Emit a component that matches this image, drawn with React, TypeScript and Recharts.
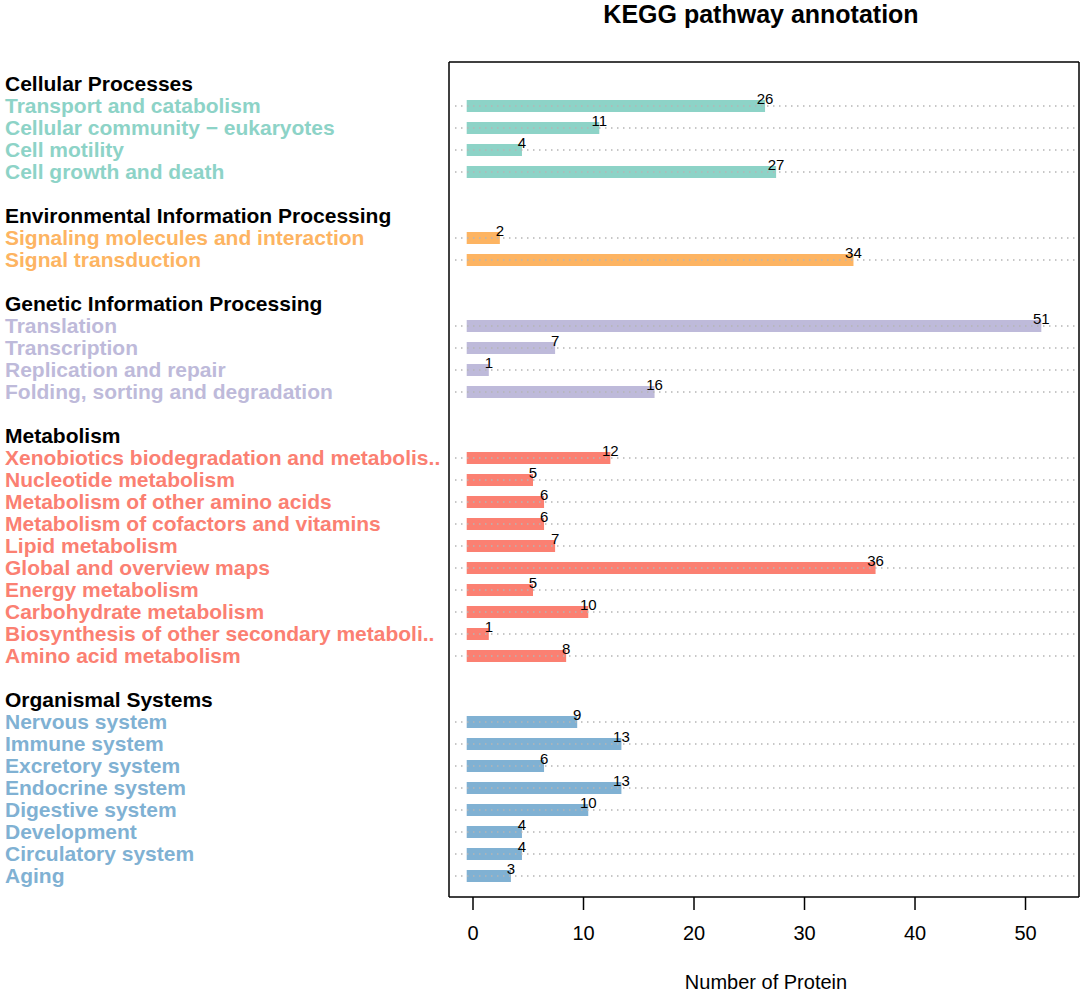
import React from "react";
import { BarChart, Bar, XAxis, YAxis, Cell, LabelList, ReferenceLine } from "recharts";

const FONT = '"Liberation Sans", Arial, Helvetica, sans-serif';

const groupTitles = [
  "Cellular Processes",
  "Environmental Information Processing",
  "Genetic Information Processing",
  "Metabolism",
  "Organismal Systems",
];
const groupColors = ["#8dd3c7", "#fdb462", "#bebada", "#fb8072", "#80b1d3"];

const cellularLabels = [
  "Transport and catabolism",
  "Cellular community \u2212 eukaryotes",
  "Cell motility",
  "Cell growth and death",
];
const cellularValues = [26, 11, 4, 27];

const environmentalLabels = ["Signaling molecules and interaction", "Signal transduction"];
const environmentalValues = [2, 34];

const geneticLabels = [
  "Translation",
  "Transcription",
  "Replication and repair",
  "Folding, sorting and degradation",
];
const geneticValues = [51, 7, 1, 16];

const metabolismLabels = [
  "Xenobiotics biodegradation and metabolis..",
  "Nucleotide metabolism",
  "Metabolism of other amino acids",
  "Metabolism of cofactors and vitamins",
  "Lipid metabolism",
  "Global and overview maps",
  "Energy metabolism",
  "Carbohydrate metabolism",
  "Biosynthesis of other secondary metaboli..",
  "Amino acid metabolism",
];
const metabolismValues = [12, 5, 6, 6, 7, 36, 5, 10, 1, 8];

const organismalLabels = [
  "Nervous system",
  "Immune system",
  "Excretory system",
  "Endocrine system",
  "Digestive system",
  "Development",
  "Circulatory system",
  "Aging",
];
const organismalValues = [9, 13, 6, 13, 10, 4, 4, 3];

const xTicks = [0, 10, 20, 30, 40, 50];

const groupLabels = [cellularLabels, environmentalLabels, geneticLabels, metabolismLabels, organismalLabels];
const groupValues = [cellularValues, environmentalValues, geneticValues, metabolismValues, organismalValues];

type Row = { key: string; label: string; kind: "header" | "item" | "blank"; value?: number; color?: string };

const rows: Row[] = [];
groupTitles.forEach((t, gi) => {
  if (gi > 0) rows.push({ key: `blank${gi}`, label: "", kind: "blank" });
  rows.push({ key: `head${gi}`, label: t, kind: "header" });
  groupLabels[gi].forEach((l, j) =>
    rows.push({ key: `g${gi}_${j}`, label: l, kind: "item", value: groupValues[gi][j], color: groupColors[gi] })
  );
});
const rowByKey: Record<string, Row> = Object.fromEntries(rows.map((r) => [r.key, r]));

const BAR_START = -0.57;
const BAR_EXTRA = 0.43;
const barRange = (d: Row) => (d.kind === "item" && d.value != null ? [BAR_START, d.value + BAR_EXTRA] : null);

const YTick = (props: any) => {
  const { y, payload } = props;
  const r = rowByKey[payload?.value];
  if (!r || !r.label) return <g />;
  return (
    <text
      x={5}
      y={y}
      dy="0.35em"
      textAnchor="start"
      fontFamily={FONT}
      fontSize={21}
      fontWeight="bold"
      fill={r.kind === "header" ? "#000000" : r.color}
    >
      {r.label}
    </text>
  );
};

const ValueLabel = (props: any) => {
  const { x, y, width, value } = props;
  if (value == null || x == null) return null;
  return (
    <text x={Number(x) + Number(width)} y={Number(y) + 4} textAnchor="middle" fontFamily={FONT} fontSize={15} fill="#000">
      {value}
    </text>
  );
};

const XTitle = (props: any) => {
  const vb = props.viewBox || {};
  return (
    <text x={vb.x + vb.width / 2 + 2} y={vb.y + 92} textAnchor="middle" fontFamily={FONT} fontSize={20} fill="#000">
      Number of Protein
    </text>
  );
};

const MainTitle = (props: any) => {
  const vb = props.viewBox || {};
  return (
    <text x={vb.x + vb.width / 2 - 3} y={vb.y - 38} textAnchor="middle" fontFamily={FONT} fontSize={25} fontWeight="bold" fill="#000">
      KEGG pathway annotation
    </text>
  );
};

const border = { stroke: "#000", strokeWidth: 1.5 };

export default function App() {
  return (
    <div style={{ position: "absolute", left: 0, top: 0, background: "#fff" }}>
      <BarChart
        width={1084}
        height={993}
        data={rows}
        layout="vertical"
        margin={{ top: 61, right: 4, bottom: 0, left: 0 }}
        barSize={12}
      >
        <XAxis
          type="number"
          domain={[-2.172, 54.84]}
          ticks={xTicks}
          allowDataOverflow
          height={96}
          tickSize={13}
          tickMargin={16}
          axisLine={border}
          tickLine={border}
          tick={{ fill: "#000", fontSize: 20, fontFamily: FONT }}
          label={{ content: XTitle }}
        />
        <XAxis
          xAxisId="top"
          orientation="top"
          type="number"
          domain={[-2.172, 54.84]}
          ticks={xTicks}
          allowDataOverflow
          height={1}
          tick={false}
          tickLine={false}
          axisLine={border}
          label={{ content: MainTitle }}
        />
        <YAxis
          type="category"
          dataKey="key"
          width={449}
          interval={0}
          tick={<YTick />}
          tickLine={false}
          axisLine={border}
          padding={{ top: 11, bottom: 10 }}
        />
        <YAxis
          yAxisId="right"
          orientation="right"
          type="category"
          dataKey="key"
          width={1}
          tick={false}
          tickLine={false}
          axisLine={border}
          padding={{ top: 11, bottom: 10 }}
        />
        {rows
          .filter((r) => r.kind === "item")
          .map((r) => (
            <ReferenceLine
              key={`line-${r.key}`}
              segment={[
                { x: -1.63, y: r.key },
                { x: 54.48, y: r.key },
              ]}
              stroke="#b5b5b5"
              strokeWidth={1.5}
              strokeDasharray="1.5 4.5"
              ifOverflow="visible"
            />
          ))}
        <Bar dataKey={barRange} isAnimationActive={false}>
          {rows.map((r) => (
            <Cell key={`cell-${r.key}`} fill={r.color || "none"} />
          ))}
          <LabelList dataKey="value" content={ValueLabel} />
        </Bar>
      </BarChart>
    </div>
  );
}
